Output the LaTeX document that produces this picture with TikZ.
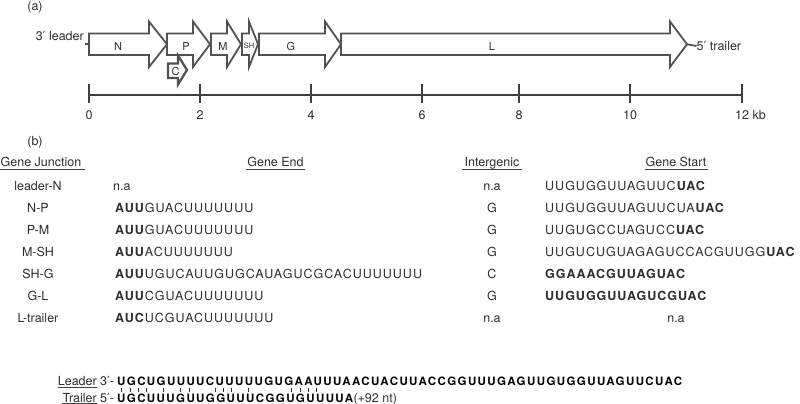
\documentclass[tikz,border=0pt]{standalone}
\usepackage{fontspec}
\usetikzlibrary{calc}
\setmainfont{TeX Gyre Heros}
\newfontfamily\djv{DejaVu Sans}
\newfontfamily\seqf[LetterSpace=8]{TeX Gyre Heros}
\newfontfamily\seqlf[LetterSpace=12.3]{TeX Gyre Heros}
\newcommand\fs[1]{\fontsize{#1}{#1}\selectfont}
\newcommand\prm{{\djv ′}}
% a base-pair bar in the width of a letter, or an empty gap of that width
\newcommand\bx[1]{\setbox0\hbox{#1}\hbox to \wd0{\hss\vrule width 0.9pt height 4pt depth 0pt\hss}}
\newcommand\nx[1]{\setbox0\hbox{#1}\hbox to \wd0{\hss}}
\tikzset{
  gene/.style={draw=black!68, line width=1.8pt, fill=white, line join=miter},
  txt/.style={inner sep=0pt, text=black!82, font=\fs{12.5}},
  glab/.style={inner sep=0pt, text=black!82, font=\fs{11}},
  axisline/.style={draw=black!75, line width=1.2pt},
  uline/.style={draw=black!75, line width=0.8pt},
  seqt/.style={inner sep=0pt, anchor=base west, text=black!82, font=\seqf\fs{12.5}},
  seql/.style={inner sep=0pt, anchor=base west, text=black, font=\seqlf\bfseries\fs{11.5}},
}
\begin{document}
\begin{tikzpicture}[x=1pt,y=-1pt]
\useasboundingbox[fill=white] (0,0) rectangle (800,404);
% ---------- (a) ----------
\node[txt] (la) at (35,7) {(a)};
% gene arrows
\foreach \a/\h/\t in {89/149/167, 167/193/210, 211/227/241, 242/249/258, 259/325/341, 341/670/687}
  \draw[gene] (\a,33.5) -- (\h,33.5) -- (\h,21.5) -- (\t,44.25) -- (\h,67) -- (\h,55) -- (\a,55) -- cycle;
\draw[gene, line width=2.3pt] (168,63.5) -- (178,63.5) -- (178,55.5) -- (187,70) -- (178,84.5) -- (178,78) -- (168,78) -- cycle;
\node[glab] (gN) at (118,46.5) {N};
\node[glab] (gP) at (186,46.5) {P};
\node[glab] (gM) at (223,46.5) {M};
\node[glab, font=\fs{7.5}] (gSH) at (249,45.5) {SH};
\node[glab] (gG) at (291,46.5) {G};
\node[glab] (gL) at (492,46.5) {L};
\node[glab] (gC) at (175.5,71.5) {C};
\coordinate (lstub) at (89,44.25);
\coordinate (rstub) at (687,44.25);
\node[txt, anchor=east] (lead) at (84,36) {3\prm{} leader};
\node[txt, anchor=west] (trail) at (696.5,46) {5\prm{} trailer};
\draw[gene] (lstub) -- ++(-4,0);
\draw[gene] (rstub) -- (trail.west);
% scale
\coordinate (ax0) at (89,95);
\coordinate (ax12) at (742,95);
\draw[axisline] (ax0) -- (ax12);
\foreach \x in {89, 200, 311, 422, 519, 630, 742}
  \draw[axisline] (\x,84) -- (\x,103);
\foreach \x/\l in {89/0, 200/2, 311/4, 422/6, 519/8, 630/10}
  \node[txt] (t\l) at (\x,115) {\l};
\node[txt, anchor=west] (t12) at (735,115) {12 kb};
% ---------- (b) ----------
\node[txt] (lb) at (35,142) {(b)};
\node[txt, anchor=base] (hj) at (41,166) {Gene Junction};
\node[txt, anchor=base] (he) at (275.5,166) {Gene End};
\node[txt, anchor=base] (hi) at (492,166) {Intergenic};
\node[txt, anchor=base] (hs) at (676,166) {Gene Start};
\draw[uline] (0,169.5) -- (85,169.5);
\draw[uline] (246,169.5) -- (305,169.5);
\draw[uline] (462,169.5) -- (522,169.5);
\draw[uline] (645,169.5) -- (708,169.5);
\foreach \y/\j/\e/\i/\s [count=\k] in {
  190.5/leader-N/{}/n.a/{UUGUGGUUAGUUC\textbf{UAC}},
  212.5/N-P/{\textbf{AUU}GUACUUUUUUU}/G/{UUGUGGUUAGUUCUA\textbf{UAC}},
  234.5/P-M/{\textbf{AUU}GUACUUUUUUU}/G/{UUGUGCCUAGUCC\textbf{UAC}},
  256.5/M-SH/{\textbf{AUU}ACUUUUUUU}/G/{UUGUCUGUAGAGUCCACGUUGG\textbf{UAC}},
  278.5/SH-G/{\textbf{AUU}UGUCAUUGUGCAUAGUCGCACUUUUUUU}/C/{\textbf{GGAAACGUUAGUAC}},
  300.5/G-L/{\textbf{AUU}CGUACUUUUUUU}/G/{\textbf{UUGUGGUUAGUCGUAC}},
  322.5/L-trailer/{\textbf{AUC}UCGUACUUUUUUU}/n.a/{}} {
  \node[txt, anchor=base] (j\k) at (38,\y) {\j};
  \node[seqt] (e\k) at (115,\y) {\e};
  \node[txt, anchor=base] (i\k) at (492,\y) {\i};
  \node[seqt] (s\k) at (545,\y) {\s};
}
\node[txt, anchor=base west] (ena) at (113,190.5) {n.a};
\node[txt, anchor=base] (sna) at (676,322.5) {n.a};
% ---------- leader / trailer ----------
\node[txt, anchor=base east] (lld) at (97,385.5) {Leader};
\node[txt, anchor=base east] (ltr) at (97,402) {Trailer};
\draw[uline] ($(lld.base west)+(0,1.5)$) -- ($(lld.base east)+(0,1.5)$);
\draw[uline] ($(ltr.base west)+(0,1.5)$) -- ($(ltr.base east)+(0,1.5)$);
\node[txt, anchor=base west] (p3) at (100,385.5) {3\prm-};
\node[txt, anchor=base west] (p5) at (100,402) {5\prm-};
\node[seql] (ldr) at (117,385.5) {UGCUGUUUUCUUUUUGUGAAUUUAACUACUUACCGGUUUGAGUUGUGGUUAGUUCUAC};
\node[seql] (trl) at (117,402) {UGCUUUGUUGGUUUCGGUGUUUUA};
\node[txt, anchor=base west] (nt) at (trl.base east) {(+92 nt)};
\node[seql, text=black!80] (bars) at (117,391.8) {\bx{U}\bx{G}\bx{C}\bx{U}\nx{U}\bx{U}\nx{G}\bx{U}\bx{U}\nx{G}\nx{G}\bx{U}\bx{U}\bx{U}\nx{C}\bx{G}\nx{G}\nx{U}\nx{G}\nx{U}\bx{U}\bx{U}\bx{U}\bx{A}};
\end{tikzpicture}
\end{document}
